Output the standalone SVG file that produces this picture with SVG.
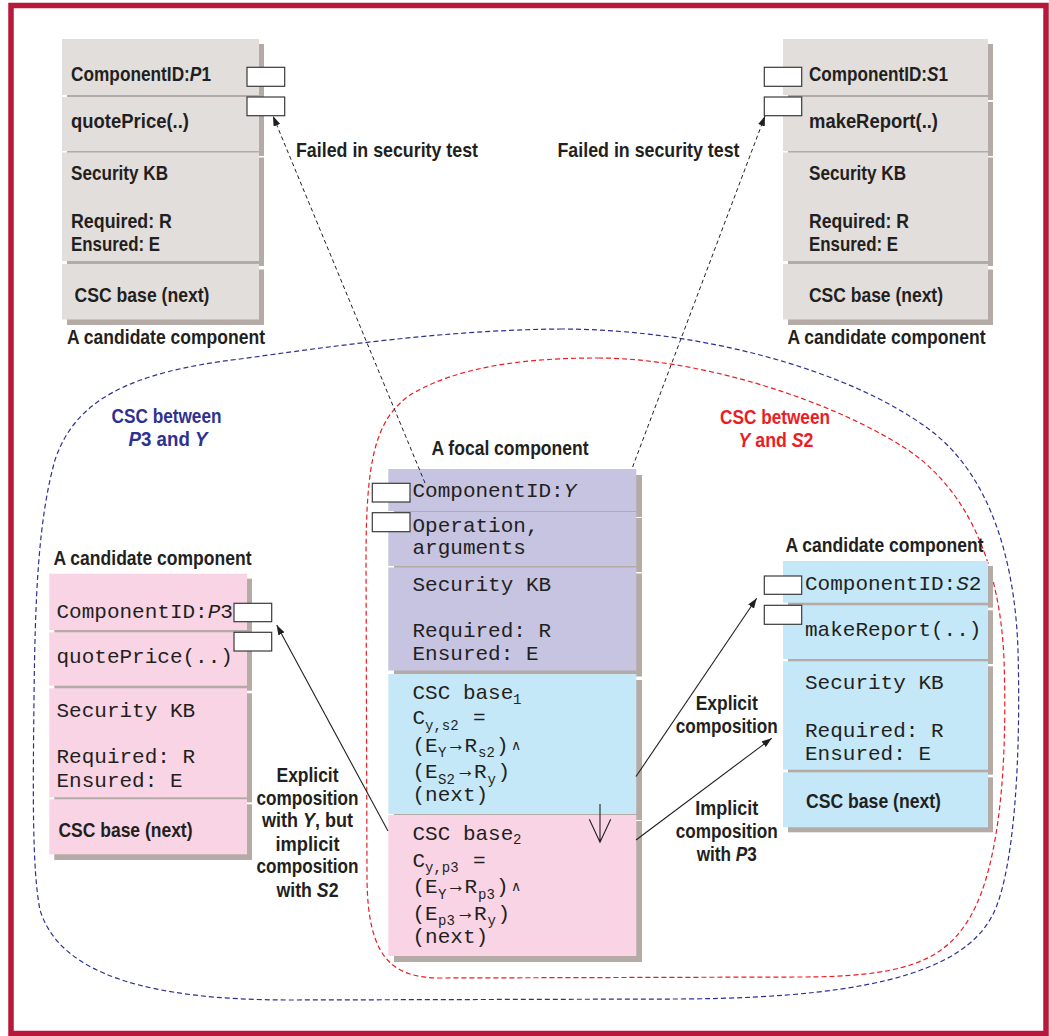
<svg xmlns="http://www.w3.org/2000/svg" width="1049" height="1036" viewBox="0 0 1049 1036">
<style>
.sans{font-family:"Liberation Sans",Arial,sans-serif;font-weight:bold;font-size:20.5px;fill:#231f20}
.mono{font-family:"Liberation Mono","Courier New",monospace;font-size:21px;fill:#231f20}
.sub{font-size:14px}
.sym{font-family:"Liberation Serif","DejaVu Serif",serif;font-size:21px;fill:#231f20}
.wedge{font-family:"DejaVu Sans",sans-serif;font-size:14px;fill:#231f20}
.grey{fill:#e2dedc}
.lav{fill:#c7c4e2}
.blue{fill:#c5e8f8}
.pink{fill:#f9d4e5}
.shd{fill:#b4aaa6}
.port{fill:#ffffff;stroke:#3a3a3a;stroke-width:1.2}
.mid{text-anchor:middle}
.it{font-style:italic}
.dash{fill:none;stroke:#231f20;stroke-width:1;stroke-dasharray:4 3}
.solid{fill:none;stroke:#231f20;stroke-width:1.1}
</style>
<defs>
<marker id="ah" viewBox="0 0 10 7" refX="10" refY="3.5" markerWidth="10" markerHeight="7" markerUnits="userSpaceOnUse" orient="auto">
<path d="M0,0 L10,3.5 L0,7 z" fill="#231f20"/>
</marker>
</defs>
<rect x="0" y="0" width="1049" height="1036" fill="#ffffff"/>
<rect x="11" y="5.5" width="1035" height="1028" fill="none" stroke="#b8193b" stroke-width="5.5"/>

<!-- regions -->
<g id="regions">
<path d="M 560 329 C 700 329 850 370 930 430 C 990 475 1015 560 1018 650 C 1021 760 1014 860 997 905 C 975 965 890 998 680 999 L 290 1000 C 150 1000 60 975 40 910 C 32 870 33 790 34 700 C 35 600 38 520 55 460 C 75 400 130 372 240 359 C 340 345 450 330 560 329 Z" fill="none" stroke="#2e3192" stroke-width="1.2" stroke-dasharray="5 3"/>
<path d="M 598 358 C 700 358 830 400 905 448 C 965 487 1000 560 1004 660 C 1008 780 997 880 965 925 C 940 962 900 977 800 977 L 440 978 C 390 978 368 955 367 880 L 366 560 C 366 460 375 420 410 395 C 460 365 530 358 598 358 Z" fill="none" stroke="#ed1c24" stroke-width="1.2" stroke-dasharray="5 3"/>
<text class="sans" x="111.5" y="423.3" textLength="110" lengthAdjust="spacingAndGlyphs" style="fill:#2e3192">CSC between</text>
<text class="sans" x="128.5" y="446" textLength="79" lengthAdjust="spacingAndGlyphs" style="fill:#2e3192"><tspan class="it">P</tspan>3 and <tspan class="it">Y</tspan></text>
<text class="sans" x="720" y="424" textLength="110" lengthAdjust="spacingAndGlyphs" style="fill:#ed1c24">CSC between</text>
<text class="sans" x="738.5" y="446.7" textLength="75" lengthAdjust="spacingAndGlyphs" style="fill:#ed1c24"><tspan class="it">Y</tspan> and <tspan class="it">S</tspan>2</text>
</g>

<!-- P1 -->
<g id="P1">
<rect class="shd" x="67" y="44" width="197" height="56"/><rect class="grey" x="62" y="39" width="197" height="56"/>
<rect class="shd" x="67" y="102" width="197" height="54"/><rect class="grey" x="62" y="97" width="197" height="54"/>
<rect class="shd" x="67" y="157.5" width="197" height="108.5"/><rect class="grey" x="62" y="152.5" width="197" height="108.5"/>
<rect class="shd" x="67" y="269.5" width="197" height="55.5"/><rect class="grey" x="62" y="264" width="197" height="55.5"/>
<rect class="port" x="247" y="67.3" width="37.7" height="19"/>
<rect class="port" x="247" y="97" width="37.7" height="18.7"/>
<text class="sans" x="71" y="81" textLength="140" lengthAdjust="spacingAndGlyphs">ComponentID:<tspan class="it">P</tspan>1</text>
<text class="sans" x="71" y="127.5" textLength="118" lengthAdjust="spacingAndGlyphs">quotePrice(..)</text>
<text class="sans" x="71" y="180" textLength="97" lengthAdjust="spacingAndGlyphs">Security KB</text>
<text class="sans" x="71" y="228" textLength="101" lengthAdjust="spacingAndGlyphs">Required: R</text>
<text class="sans" x="71" y="250.7" textLength="89" lengthAdjust="spacingAndGlyphs">Ensured: E</text>
<text class="sans" x="74.5" y="302" textLength="135" lengthAdjust="spacingAndGlyphs">CSC base (next)</text>
<text class="sans" x="67" y="344" textLength="198" lengthAdjust="spacingAndGlyphs">A candidate component</text>
</g>

<!-- S1 -->
<g id="S1">
<rect class="shd" x="788" y="44" width="205" height="56"/><rect class="grey" x="783" y="39" width="205" height="56"/>
<rect class="shd" x="788" y="102" width="205" height="54"/><rect class="grey" x="783" y="97" width="205" height="54"/>
<rect class="shd" x="788" y="157.5" width="205" height="108.5"/><rect class="grey" x="783" y="152.5" width="205" height="108.5"/>
<rect class="shd" x="788" y="269.5" width="205" height="55.5"/><rect class="grey" x="783" y="264" width="205" height="55.5"/>
<rect class="port" x="764.3" y="67.3" width="37.4" height="19"/>
<rect class="port" x="764.3" y="97" width="37.4" height="18.7"/>
<text class="sans" x="809" y="81" textLength="139" lengthAdjust="spacingAndGlyphs">ComponentID:<tspan class="it">S</tspan>1</text>
<text class="sans" x="809" y="127.5" textLength="129" lengthAdjust="spacingAndGlyphs">makeReport(..)</text>
<text class="sans" x="809" y="180" textLength="97" lengthAdjust="spacingAndGlyphs">Security KB</text>
<text class="sans" x="809" y="228" textLength="100" lengthAdjust="spacingAndGlyphs">Required: R</text>
<text class="sans" x="809" y="250.7" textLength="89" lengthAdjust="spacingAndGlyphs">Ensured: E</text>
<text class="sans" x="809" y="302" textLength="134" lengthAdjust="spacingAndGlyphs">CSC base (next)</text>
<text class="sans" x="787.5" y="344" textLength="198" lengthAdjust="spacingAndGlyphs">A candidate component</text>
</g>

<!-- Focal Y -->
<g id="Y">
<text class="sans" x="431.5" y="455" textLength="157" lengthAdjust="spacingAndGlyphs">A focal component</text>
<rect class="shd" x="394" y="475" width="248" height="42"/><rect class="lav" x="388.3" y="469" width="248" height="42"/>
<rect class="shd" x="394" y="518" width="248" height="54"/><rect class="lav" x="388.3" y="512" width="248" height="54"/>
<rect class="shd" x="394" y="573.5" width="248" height="103"/><rect class="lav" x="388.3" y="567.5" width="248" height="103"/>
<rect class="shd" x="394" y="680" width="248" height="140"/><rect class="blue" x="388.3" y="674" width="248" height="140"/>
<rect class="shd" x="394" y="821" width="248" height="141"/><rect class="pink" x="388.3" y="815" width="248" height="141"/>
<rect class="port" x="372.3" y="483.3" width="37.7" height="18.7"/>
<rect class="port" x="372.3" y="512.7" width="37.7" height="19"/>
<text class="mono" x="412.5" y="496.7">ComponentID:<tspan class="it">Y</tspan></text>
<text class="mono" x="412.5" y="531.7">Operation,</text>
<text class="mono" x="412.5" y="554">arguments</text>
<text class="mono" x="412.5" y="590.7">Security KB</text>
<text class="mono" x="412.5" y="637.3">Required: R</text>
<text class="mono" x="412.5" y="660">Ensured: E</text>
<!-- CSC base 1 -->
<text class="mono" x="412.5" y="699.3">CSC base<tspan class="sub" x="513" y="703.5">1</tspan></text>
<text class="mono" x="412.5" y="724.3">C<tspan class="sub" x="425" y="729.5">y,s2</tspan><tspan x="473" y="724.3">=</tspan></text>
<text class="mono" x="412.5" y="752">(E<tspan class="sub" x="438" y="757">Y</tspan><tspan x="464.5" y="752">R</tspan><tspan class="sub" x="478" y="757">s2</tspan><tspan x="496" y="752">)</tspan></text>
<text class="sym" x="446.5" y="751" textLength="19" lengthAdjust="spacingAndGlyphs">→</text><text class="wedge" x="511" y="750">∧</text>
<text class="mono" x="412.5" y="778.3">(E<tspan class="sub" x="438" y="783.5">S2</tspan><tspan x="474" y="778.3">R</tspan><tspan class="sub" x="487.5" y="783.5">y</tspan><tspan x="497.5" y="778.3">)</tspan></text>
<text class="sym" x="456" y="777.3" textLength="19" lengthAdjust="spacingAndGlyphs">→</text>
<text class="mono" x="412.5" y="801">(next)</text>
<!-- CSC base 2 -->
<text class="mono" x="412.5" y="840">CSC base<tspan class="sub" x="513" y="844">2</tspan></text>
<text class="mono" x="412.5" y="866.7">C<tspan class="sub" x="425" y="872">y,p3</tspan><tspan x="473" y="866.7">=</tspan></text>
<text class="mono" x="412.5" y="893.3">(E<tspan class="sub" x="438" y="898.5">Y</tspan><tspan x="464.5" y="893.3">R</tspan><tspan class="sub" x="478" y="898.5">p3</tspan><tspan x="496" y="893.3">)</tspan></text>
<text class="sym" x="446.5" y="892.3" textLength="19" lengthAdjust="spacingAndGlyphs">→</text><text class="wedge" x="511" y="891.3">∧</text>
<text class="mono" x="412.5" y="920">(E<tspan class="sub" x="438" y="925">p3</tspan><tspan x="474" y="920">R</tspan><tspan class="sub" x="487.5" y="925">y</tspan><tspan x="497.5" y="920">)</tspan></text>
<text class="sym" x="456" y="919" textLength="19" lengthAdjust="spacingAndGlyphs">→</text>
<text class="mono" x="412.5" y="942.7">(next)</text>
</g>

<!-- P3 -->
<g id="P3">
<text class="sans" x="53.5" y="565" textLength="198" lengthAdjust="spacingAndGlyphs">A candidate component</text>
<rect class="shd" x="54.3" y="578.7" width="197.7" height="56.3"/><rect class="pink" x="49.3" y="573.7" width="197.7" height="56.3"/>
<rect class="shd" x="54.3" y="637.3" width="197.7" height="53.4"/><rect class="pink" x="49.3" y="632.3" width="197.7" height="53.4"/>
<rect class="shd" x="54.3" y="693.3" width="197.7" height="109"/><rect class="pink" x="49.3" y="688.3" width="197.7" height="109"/>
<rect class="shd" x="54.3" y="804.3" width="197.7" height="55.7"/><rect class="pink" x="49.3" y="799.3" width="197.7" height="55"/>
<rect class="port" x="234" y="603.3" width="37.7" height="18.4"/>
<rect class="port" x="234" y="632.3" width="37.7" height="18.7"/>
<text class="mono" x="56.5" y="617.7">ComponentID:<tspan class="it">P</tspan>3</text>
<text class="mono" x="56.5" y="662.7">quotePrice(..)</text>
<text class="mono" x="56.5" y="716.7">Security KB</text>
<text class="mono" x="56.5" y="762.7">Required: R</text>
<text class="mono" x="56.5" y="786.7">Ensured: E</text>
<text class="sans" x="58.5" y="836.7" textLength="134" lengthAdjust="spacingAndGlyphs">CSC base (next)</text>
</g>

<!-- S2 -->
<g id="S2">
<text class="sans" x="785.5" y="551.7" textLength="198" lengthAdjust="spacingAndGlyphs">A candidate component</text>
<rect class="shd" x="788" y="566" width="205" height="41.7"/><rect class="blue" x="783" y="561" width="205" height="41.7"/>
<rect class="shd" x="788" y="610.3" width="205" height="53.7"/><rect class="blue" x="783" y="605.3" width="205" height="53.7"/>
<rect class="shd" x="788" y="666.3" width="205" height="108.4"/><rect class="blue" x="783" y="661.3" width="205" height="108.4"/>
<rect class="shd" x="788" y="777.3" width="205" height="55"/><rect class="blue" x="783" y="772.3" width="205" height="55"/>
<rect class="port" x="764.3" y="576" width="37.4" height="18.3"/>
<rect class="port" x="764.3" y="605.3" width="37.4" height="19"/>
<text class="mono" x="805" y="590">ComponentID:<tspan class="it">S</tspan>2</text>
<text class="mono" x="805" y="636">makeReport(..)</text>
<text class="mono" x="805" y="689.3">Security KB</text>
<text class="mono" x="805" y="736.7">Required: R</text>
<text class="mono" x="805" y="760">Ensured: E</text>
<text class="sans" x="806" y="808.3" textLength="135" lengthAdjust="spacingAndGlyphs">CSC base (next)</text>
</g>

<!-- connectors -->
<g id="connectors">
<line class="dash" x1="425" y1="483" x2="273" y2="116" marker-end="url(#ah)"/>
<line class="dash" x1="632.6" y1="467" x2="765" y2="116" marker-end="url(#ah)"/>
<line class="solid" x1="388" y1="831" x2="276.7" y2="625" marker-end="url(#ah)"/>
<line class="solid" x1="636" y1="776.5" x2="756.7" y2="598.3" marker-end="url(#ah)"/>
<line class="solid" x1="636" y1="840" x2="771.7" y2="738.3" marker-end="url(#ah)"/>
<path class="solid" d="M 600 804 L 600 842 M 589.3 819.3 L 600 842.3 L 610.7 819.3"/>
<text class="sans" x="296" y="156.7" textLength="182" lengthAdjust="spacingAndGlyphs">Failed in security test</text>
<text class="sans" x="557.5" y="156.7" textLength="182" lengthAdjust="spacingAndGlyphs">Failed in security test</text>
<text class="sans mid" x="726.7" y="710" textLength="62" lengthAdjust="spacingAndGlyphs">Explicit</text>
<text class="sans mid" x="726.7" y="732.5" textLength="102" lengthAdjust="spacingAndGlyphs">composition</text>
<text class="sans mid" x="726.7" y="815" textLength="63" lengthAdjust="spacingAndGlyphs">Implicit</text>
<text class="sans mid" x="726.7" y="838" textLength="102" lengthAdjust="spacingAndGlyphs">composition</text>
<text class="sans mid" x="726.7" y="861" textLength="60" lengthAdjust="spacingAndGlyphs">with <tspan class="it">P</tspan>3</text>
<text class="sans mid" x="307.5" y="782.3" textLength="62" lengthAdjust="spacingAndGlyphs">Explicit</text>
<text class="sans mid" x="307.5" y="805" textLength="102" lengthAdjust="spacingAndGlyphs">composition</text>
<text class="sans mid" x="307.5" y="827.3" textLength="91" lengthAdjust="spacingAndGlyphs">with <tspan class="it">Y</tspan>, but</text>
<text class="sans mid" x="307.5" y="850.7" textLength="64" lengthAdjust="spacingAndGlyphs">implicit</text>
<text class="sans mid" x="307.5" y="873.3" textLength="102" lengthAdjust="spacingAndGlyphs">composition</text>
<text class="sans mid" x="307.5" y="896.7" textLength="62" lengthAdjust="spacingAndGlyphs">with <tspan class="it">S</tspan>2</text>
</g>
</svg>
